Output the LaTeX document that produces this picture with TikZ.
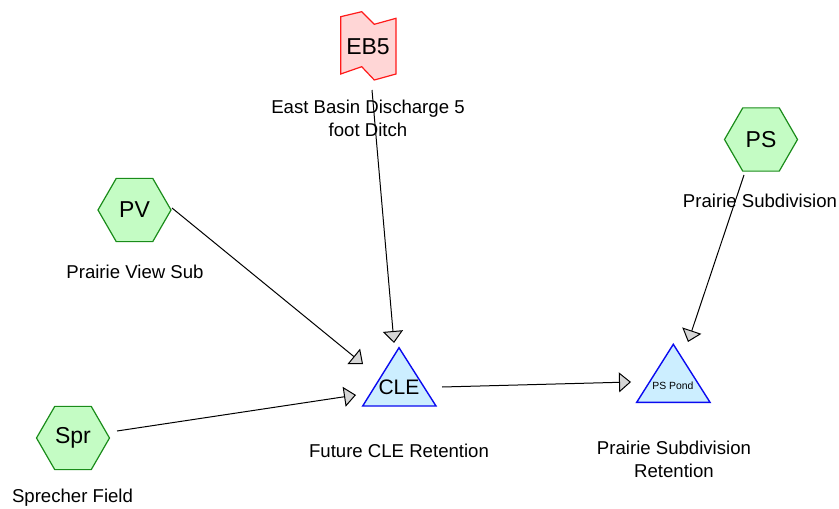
\documentclass[tikz,border=0pt]{standalone}
\usepackage{fontspec}
\setmainfont{Liberation Sans}
\usetikzlibrary{arrows.meta, shapes.geometric}
\definecolor{hexGreen}{HTML}{1A8C1A}
\definecolor{hexFill}{HTML}{C4FCC4}
\definecolor{flagRed}{HTML}{FF1A1A}
\definecolor{flagFill}{HTML}{FFD6D6}
\definecolor{triBlue}{HTML}{0A0AF0}
\definecolor{triFill}{HTML}{CCEEFF}
\definecolor{tipGray}{HTML}{D6D6D6}

\begin{document}
\begin{tikzpicture}[x=0.5pt, y=-0.5pt,
    hexa/.style={regular polygon, regular polygon sides=6, draw=hexGreen, fill=hexFill,
      line width=0.6pt, minimum size=36.5pt, inner sep=0pt, font=\fontsize{11.5}{13}\selectfont},
    flag/.style={draw=flagRed, fill=flagFill, line width=0.6pt},
    tri/.style={draw=triBlue, fill=triFill, line width=0.7pt},
    big/.style={inner sep=0pt, font=\fontsize{11.5}{13}\selectfont},
    lbl/.style={align=center, inner sep=0pt, font=\fontsize{9.3}{11.5}\selectfont},
    ar/.style={-{Triangle[length=6pt, width=10pt, fill=tipGray]}, line width=0.5pt}]
    \useasboundingbox (0,0) rectangle (839,508);
    \draw[flag] (340.7,16.7) -- (361.7,11.7) -- (374.3,24.3) -- (396,18.3) -- (396,74)
      -- (374.3,80) -- (361.7,66.7) -- (340.7,74) -- cycle;
    \draw[tri] (399,347.7) -- (436,406) -- (362.7,406) -- cycle;
    \draw[tri] (673.3,344.3) -- (710,402.3) -- (636.7,402.3) -- cycle;
    \node[big] (eb5) at (368,47) {EB5};
    \node[big, font=\fontsize{10.5}{12}\selectfont] (cle) at (399,387) {CLE};
    \node[big, font=\fontsize{5.2}{6}\selectfont] (psp) at (673,386) {PS Pond};
    \node[hexa] (pv) at (134.5,210) {PV};
    \node[hexa] (spr) at (73,438) {Spr};
    \node[hexa] (ps) at (761,139.5) {PS};
    \node[lbl] (eb5l) at (368,118.5) {East Basin Discharge 5\\foot Ditch};
    \node[lbl] (pvl) at (135,272) {Prairie View Sub};
    \node[lbl] (sprl) at (72.5,498) {Sprecher Field};
    \node[lbl] (psl) at (760,201) {Prairie Subdivision};
    \node[lbl] (clel) at (399,451) {Future CLE Retention};
    \node[lbl] (pspl) at (674,459) {Prairie Subdivision\\Retention};
    \coordinate (eb5o) at (372,90);
    \coordinate (clei1) at (394,343);
    \coordinate (pvo) at (172,208);
    \coordinate (clei2) at (363,364);
    \coordinate (spro) at (117,431);
    \coordinate (clei3) at (356,395);
    \coordinate (cleo) at (442,387);
    \coordinate (pspi1) at (631,382);
    \coordinate (pso) at (744,175);
    \coordinate (pspi2) at (688,342);
    \draw[ar] (eb5o) -- (clei1);
    \draw[ar] (pvo) -- (clei2);
    \draw[ar] (spro) -- (clei3);
    \draw[ar] (cleo) -- (pspi1);
    \draw[ar] (pso) -- (pspi2);
  \end{tikzpicture}
\end{document}
